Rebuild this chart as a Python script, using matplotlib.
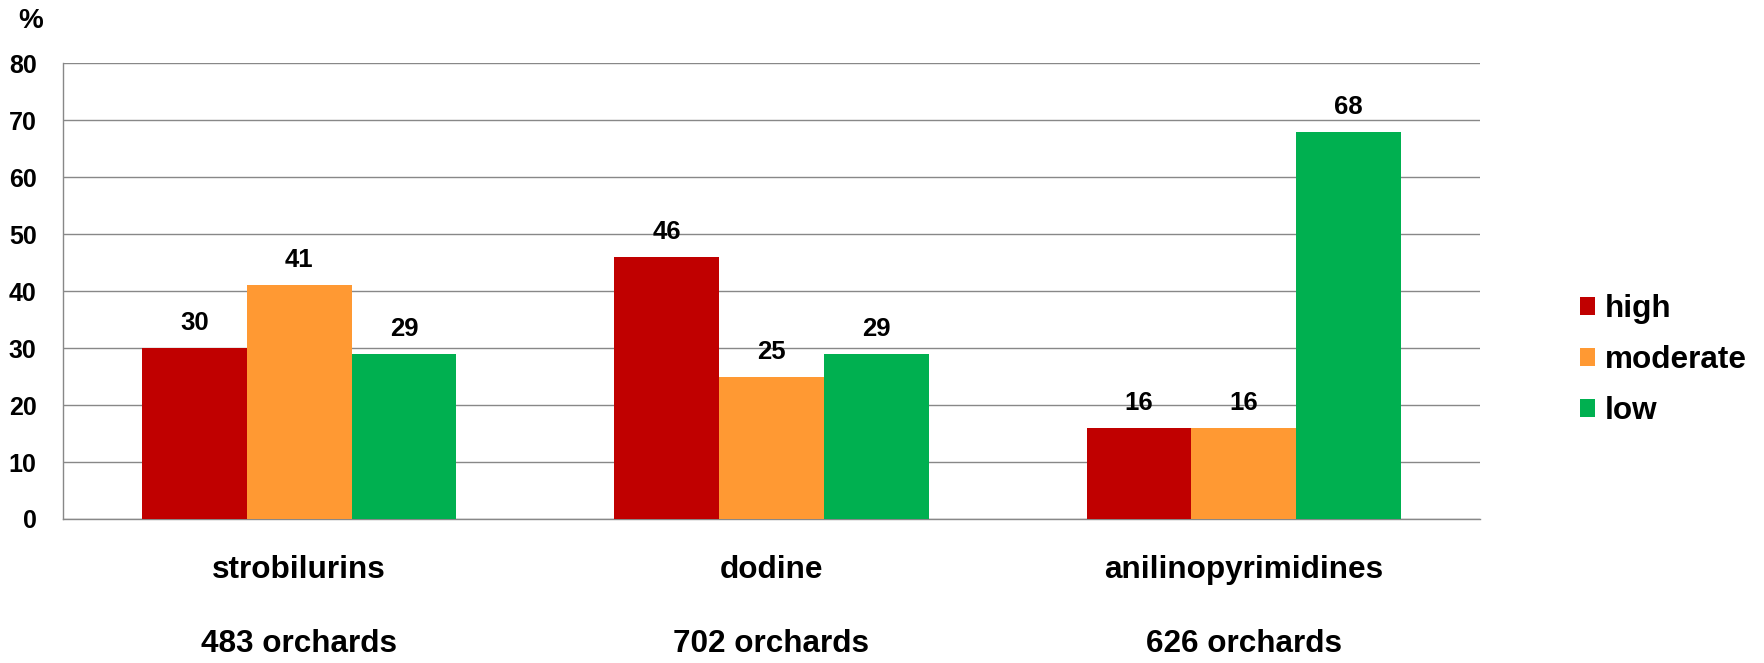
import matplotlib.pyplot as plt
import numpy as np

plt.rcParams['font.family'] = ['Liberation Sans', 'DejaVu Sans']
plt.rcParams['font.weight'] = 'bold'

# fungicide groups and share of orchards per resistance level
categories = ['strobilurins', 'dodine', 'anilinopyrimidines']
orchards = [483, 702, 626]
levels = ['high', 'moderate', 'low']
high = [30, 46, 16]
moderate = [41, 25, 16]
low = [29, 29, 68]
colors = ['#C00000', '#FF9933', '#00B050']
yticks = [0, 10, 20, 30, 40, 50, 60, 70, 80]

fig = plt.figure(figsize=(17.65, 6.63), dpi=100)
ax = fig.add_axes([0.0357, 0.2172, 0.8028, 0.6873])

x = np.arange(len(categories))
w = 0.222
for i, (vals, lab, col) in enumerate(zip([high, moderate, low], levels, colors)):
    pos = x + (i - 1) * w
    bars = ax.bar(pos, vals, width=w, color=col, label=lab, zorder=3)
    for b, v in zip(bars, vals):
        ax.annotate(str(v), (b.get_x() + b.get_width() / 2, v),
                    xytext=(0, 18), textcoords='offset points',
                    ha='center', va='center', fontsize=18.5, fontweight='bold')

ax.set_xlim(-0.5, 2.5)
ax.set_ylim(0, 80)
ax.set_yticks(yticks)
ax.set_yticklabels([str(t) for t in yticks], fontsize=18, fontweight='bold')
ax.tick_params(axis='y', length=0, pad=19)
ax.set_xticks(x)
ax.set_xticklabels([f'{c}\n\n{n} orchards' for c, n in zip(categories, orchards)],
                   fontsize=22.7, fontweight='bold', va='top', linespacing=1.3)
ax.tick_params(axis='x', length=0, pad=26)

ax.yaxis.grid(True, color='#888888', linewidth=1.0, zorder=0)
ax.set_axisbelow(True)
for s in ['top', 'right']:
    ax.spines[s].set_visible(False)
for s in ['left', 'bottom']:
    ax.spines[s].set_color('#888888')
    ax.spines[s].set_linewidth(1.0)

fig.text(31 / 1765, 1 - 21 / 663, '%', fontsize=20, fontweight='bold',
         ha='center', va='center')

ax.legend(loc='center left', bbox_to_anchor=(0.895, 0.457),
          bbox_transform=fig.transFigure, frameon=False, fontsize=22.7,
          handlelength=0.5, handleheight=0.5, handletextpad=0.3,
          labelspacing=0.67, borderpad=0, borderaxespad=0)

fig.savefig('out.png', dpi=100)
